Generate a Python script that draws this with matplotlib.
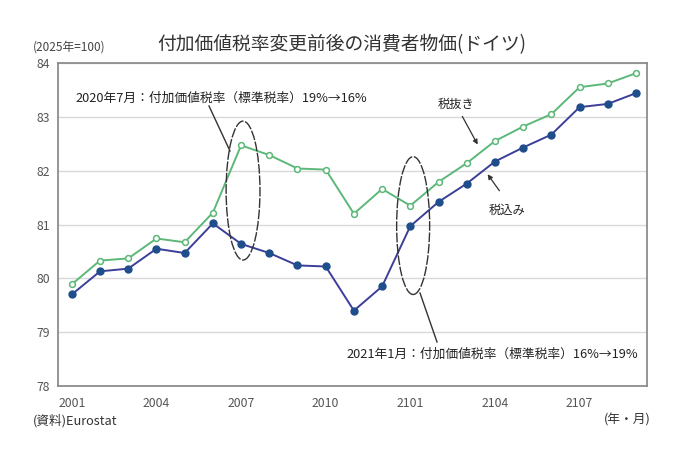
import matplotlib
matplotlib.use("Agg")
import matplotlib.pyplot as plt
from matplotlib.patches import Ellipse

plt.rcParams['font.family'] = ['Noto Sans CJK JP', 'DejaVu Sans']

months = ["2001", "2002", "2003", "2004", "2005", "2006", "2007", "2008", "2009", "2010",
          "2011", "2012", "2101", "2102", "2103", "2104", "2105", "2106", "2107", "2108", "2109"]
tax_excl = [79.89, 80.33, 80.37, 80.74, 80.67, 81.22, 82.47, 82.29, 82.04, 82.02,
            81.20, 81.66, 81.35, 81.79, 82.14, 82.55, 82.82, 83.05, 83.55, 83.62, 83.81]
tax_incl = [79.70, 80.13, 80.18, 80.55, 80.47, 81.02, 80.64, 80.47, 80.24, 80.22,
            79.40, 79.85, 80.97, 81.42, 81.76, 82.17, 82.43, 82.67, 83.18, 83.24, 83.44]
tick_labels = ["2001", "2004", "2007", "2010", "2101", "2104", "2107"]
y_ticks = [78, 79, 80, 81, 82, 83, 84]

W, H = 680, 453
fig = plt.figure(figsize=(W / 100, H / 100), dpi=100)
ax = fig.add_axes([58 / W, 1 - 386 / H, 589 / W, 323 / H])

x = list(range(len(months)))
green = "#5cb878"
blue = "#3b3f98"
ax.plot(x, tax_excl, color=green, lw=1.4, marker="o", ms=4.2,
        markerfacecolor="white", markeredgecolor=green, markeredgewidth=1.1, zorder=3)
ax.plot(x, tax_incl, color=blue, lw=1.4, marker="o", ms=5,
        markerfacecolor="#1f4e8c", markeredgecolor="#1f4e8c", zorder=3)

ax.set_xlim(-0.49, 20.39)
ax.set_ylim(78, 84)
ax.set_yticks(y_ticks)
ax.set_yticklabels([str(v) for v in y_ticks])
ax.set_xticks([months.index(t) for t in tick_labels])
ax.set_xticklabels(tick_labels)
ax.tick_params(length=0, labelsize=8.8, colors="#555555", pad=6)
ax.tick_params(axis="x", pad=8)
ax.grid(axis="y", color="#d9d9d9", lw=1.0)
ax.set_axisbelow(True)
for s in ax.spines.values():
    s.set_color("#8c8c8c")
    s.set_linewidth(1.3)

# ellipses marking VAT changes
i1 = months.index("2007")
i2 = months.index("2101")
e1 = Ellipse((i1 + 0.07, 81.63), 1.2, 2.58, fill=False, ec="#333333", lw=1.0,
             ls=(0, (7, 1.2)), zorder=4)
e2 = Ellipse((i2 + 0.1, 80.98), 1.17, 2.56, fill=False, ec="#333333", lw=1.0,
             ls=(0, (7, 1.2)), zorder=4)
ax.add_patch(e1)
ax.add_patch(e2)

def px(xp, yp):
    return (xp / W, 1 - yp / H)

# annotation leader lines
fig.add_artist(plt.Line2D([209 / W, 230 / W], [1 - 106 / H, 1 - 151 / H], color="#333333", lw=1.0))
fig.add_artist(plt.Line2D([420 / W, 437 / W], [1 - 293 / H, 1 - 342 / H], color="#333333", lw=1.0))

fig.text(*px(75, 98), "2020年7月：付加価値税率（標準税率）19%→16%", fontsize=9.2, color="#222222",
         va="center", ha="left")
fig.text(*px(346, 354), "2021年1月：付加価値税率（標準税率）16%→19%", fontsize=9.2, color="#222222",
         va="center", ha="left")

# series labels with arrows
ax.annotate("", xy=px(479, 147), xycoords="figure fraction",
            xytext=px(461, 114), textcoords="figure fraction",
            arrowprops=dict(arrowstyle="-|>", color="#333333", lw=0.9, mutation_scale=7))
fig.text(*px(456, 104), "税抜き", fontsize=8.8, color="#222222", va="center", ha="center")
ax.annotate("", xy=px(486, 172), xycoords="figure fraction",
            xytext=px(501, 193), textcoords="figure fraction",
            arrowprops=dict(arrowstyle="-|>", color="#333333", lw=0.9, mutation_scale=7))
fig.text(*px(507, 210), "税込み", fontsize=8.8, color="#222222", va="center", ha="center")

fig.text(0.502, 1 - 45 / H, "付加価値税率変更前後の消費者物価(ドイツ)", fontsize=13.5, color="#333333",
         ha="center", va="center")
fig.text(*px(33, 47), "(2025年=100)", fontsize=8.5, color="#444444", va="center", ha="left")
fig.text(*px(33, 421), "(資料)Eurostat", fontsize=9.2, color="#333333", va="center", ha="left")
fig.text(*px(651, 420), "(年・月)", fontsize=9.2, color="#333333", va="center", ha="right")

fig.savefig("out.png", dpi=100, facecolor="white")
